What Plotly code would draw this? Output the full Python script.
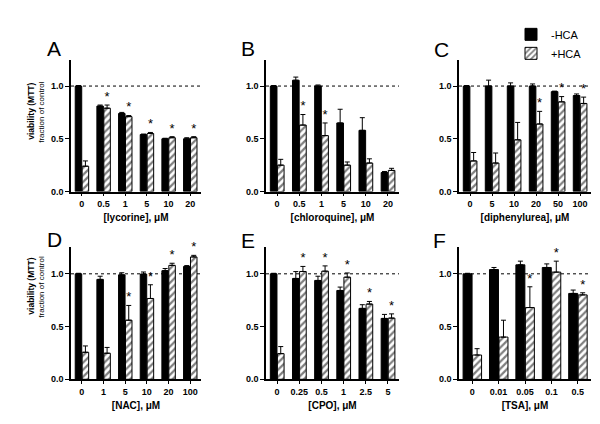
import plotly.graph_objects as go

# ---------------- data ----------------
A_conc = ["0", "0.5", "1", "5", "10", "20"]
A_minus = [1.00, 0.81, 0.74, 0.54, 0.50, 0.50]
A_minus_err = [0.005, 0.01, 0.01, 0.005, 0.005, 0.01]
A_plus = [0.24, 0.79, 0.71, 0.55, 0.51, 0.51]
A_plus_err = [0.05, 0.03, 0.01, 0.01, 0.01, 0.01]
A_star = [0, 1, 1, 1, 1, 1]

B_conc = ["0", "0.5", "1", "5", "10", "20"]
B_minus = [1.00, 1.055, 1.00, 0.65, 0.58, 0.18]
B_minus_err = [0.005, 0.03, 0.01, 0.13, 0.12, 0.01]
B_plus = [0.25, 0.63, 0.53, 0.25, 0.27, 0.20]
B_plus_err = [0.055, 0.10, 0.12, 0.03, 0.04, 0.02]
B_star = [0, 1, 1, 0, 0, 0]

C_conc = ["0", "5", "10", "20", "50", "100"]
C_minus = [1.00, 1.00, 1.00, 1.00, 0.947, 0.91]
C_minus_err = [0.005, 0.056, 0.03, 0.02, 0.005, 0.015]
C_plus = [0.29, 0.27, 0.49, 0.64, 0.85, 0.835]
C_plus_err = [0.08, 0.095, 0.165, 0.12, 0.05, 0.06]
C_star = [0, 0, 0, 1, 1, 1]

D_conc = ["0", "1", "5", "10", "20", "100"]
D_minus = [1.00, 0.947, 0.99, 0.997, 1.03, 1.07]
D_minus_err = [0.005, 0.03, 0.02, 0.02, 0.02, 0.008]
D_plus = [0.256, 0.247, 0.56, 0.766, 1.08, 1.16]
D_plus_err = [0.06, 0.055, 0.14, 0.13, 0.02, 0.015]
D_star = [0, 0, 1, 1, 1, 1]

E_conc = ["0", "0.25", "0.5", "1", "2.5", "5"]
E_minus = [1.00, 0.956, 0.937, 0.842, 0.672, 0.577]
E_minus_err = [0.005, 0.065, 0.04, 0.032, 0.035, 0.038]
E_plus = [0.243, 1.022, 1.025, 0.968, 0.713, 0.58]
E_plus_err = [0.067, 0.048, 0.05, 0.04, 0.025, 0.04]
E_star = [0, 1, 1, 1, 1, 1]

F_conc = ["0", "0.01", "0.05", "0.1", "0.5"]
F_minus = [1.00, 1.04, 1.085, 1.06, 0.814]
F_minus_err = [0.005, 0.02, 0.035, 0.034, 0.032]
F_plus = [0.23, 0.40, 0.68, 1.016, 0.80]
F_plus_err = [0.06, 0.16, 0.197, 0.104, 0.02]
F_star = [0, 0, 1, 1, 1]

panels = [
    ("A", "[lycorine], μM", A_conc, A_minus, A_minus_err, A_plus, A_plus_err, A_star),
    ("B", "[chloroquine], μM", B_conc, B_minus, B_minus_err, B_plus, B_plus_err, B_star),
    ("C", "[diphenylurea], μM", C_conc, C_minus, C_minus_err, C_plus, C_plus_err, C_star),
    ("D", "[NAC], μM", D_conc, D_minus, D_minus_err, D_plus, D_plus_err, D_star),
    ("E", "[CPO], μM", E_conc, E_minus, E_minus_err, E_plus, E_plus_err, E_star),
    ("F", "[TSA], μM", F_conc, F_minus, F_minus_err, F_plus, F_plus_err, F_star),
]

# ---------------- layout geometry ----------------
W, H = 600, 424
xdoms = [(63, 193), (258, 391), (451, 583)]
ydoms = [(52.3, 185.7), (242.3, 375.7)]
letter_pos = [(46, 41), (240, 41), (433, 42), (46, 234), (240, 235), (431, 235)]
ylabel_cy = [105, 282]

FONT = "Liberation Sans, Arial, sans-serif"

fig = go.Figure()
layout = dict(
    width=W, height=H, margin=dict(l=0, r=0, t=0, b=0),
    paper_bgcolor="white", plot_bgcolor="white",
    font=dict(family=FONT, color="black"),
    barmode="overlay", showlegend=True,
    legend=dict(x=503 / W, y=1 - 12 / H, xanchor="left", yanchor="top",
                font=dict(size=11, family=FONT), bgcolor="rgba(0,0,0,0)",
                itemwidth=30, tracegroupgap=0),
)
shapes = []
annotations = []

for k, (letter, xtitle, conc, mn, mn_e, pl, pl_e, star) in enumerate(panels):
    row, col = divmod(k, 3)
    n = len(conc)
    idx = list(range(n))
    bw = 0.30 if n == 6 else 0.34
    xa = "x" if k == 0 else f"x{k+1}"
    ya = "y" if k == 0 else f"y{k+1}"
    xkey = "xaxis" if k == 0 else f"xaxis{k+1}"
    ykey = "yaxis" if k == 0 else f"yaxis{k+1}"

    fig.add_trace(go.Bar(
        x=idx, y=mn, width=bw, offset=-bw - 0.005, xaxis=xa, yaxis=ya,
        name="-HCA", legendgroup="m", showlegend=(k == 0),
        marker=dict(color="black", line=dict(color="black", width=1)),
        error_y=dict(type="data", array=mn_e, arrayminus=[0] * n, symmetric=False,
                     color="black", thickness=1, width=2.5),
    ))
    fig.add_trace(go.Bar(
        x=idx, y=pl, width=bw, offset=0.015, xaxis=xa, yaxis=ya,
        name="+HCA", legendgroup="p", showlegend=(k == 0),
        marker=dict(color="white", line=dict(color="black", width=1),
                    pattern=dict(shape="/", fgcolor="black", bgcolor="white",
                                 size=5, solidity=0.45)),
        error_y=dict(type="data", array=pl_e, arrayminus=[0] * n, symmetric=False,
                     color="black", thickness=1, width=2.5),
    ))
    sx = [i + 0.015 + bw / 2 for i, s in zip(idx, star) if s]
    sy = [p + e + 0.07 for p, e, s in zip(pl, pl_e, star) if s]
    fig.add_trace(go.Scatter(
        x=sx, y=sy, mode="text", text=["*"] * len(sx), textposition="middle center",
        textfont=dict(size=13, family=FONT, color="#000000"), cliponaxis=False,
        xaxis=xa, yaxis=ya, showlegend=False, hoverinfo="skip",
    ))

    x0, x1 = xdoms[col]
    y0, y1 = ydoms[row]
    layout[xkey] = dict(
        domain=[x0 / W, x1 / W], anchor=ya, range=[-0.5, n - 0.5],
        tickvals=idx, ticktext=conc, ticks="outside", ticklen=3, tickwidth=1.2,
        tickcolor="black", showline=True, linecolor="black", linewidth=1.5,
        showgrid=False, zeroline=False, fixedrange=True,
        tickfont=dict(size=9, family=FONT, weight="bold"),
        title=dict(text=xtitle, font=dict(size=10, family=FONT, weight="bold"),
                   standoff=6),
    )
    layout[ykey] = dict(
        domain=[1 - y1 / H, 1 - y0 / H], anchor=xa, range=[0, 1.25],
        tickvals=[0, 0.5, 1.0], ticktext=["0.0", "0.5", "1.0"],
        ticks="outside", ticklen=4, tickwidth=1.2, tickcolor="black",
        showline=True, linecolor="black", linewidth=1.5,
        showgrid=False, zeroline=False, fixedrange=True,
        tickfont=dict(size=9, family=FONT, weight="bold"),
    )
    shapes.append(dict(type="line", xref=f"{xa} domain", yref=ya, x0=0, x1=1,
                       y0=1.0, y1=1.0, line=dict(color="black", width=1, dash="dot"),
                       layer="below"))
    lx, ly = letter_pos[k]
    annotations.append(dict(text=letter, x=lx / W, y=1 - ly / H, xref="paper",
                            yref="paper", showarrow=False, xanchor="center",
                            yanchor="middle", font=dict(size=21, family=FONT)))
    if col == 0:
        cy = ylabel_cy[row]
        annotations.append(dict(text="<b>viability (MTT)</b>", x=23 / W, y=1 - cy / H,
                                xref="paper", yref="paper", showarrow=False,
                                textangle=-90, xanchor="center", yanchor="middle",
                                font=dict(size=8.5, family=FONT)))
        annotations.append(dict(text="fraction of control", x=34 / W, y=1 - cy / H,
                                xref="paper", yref="paper", showarrow=False,
                                textangle=-90, xanchor="center", yanchor="middle",
                                font=dict(size=8, family=FONT)))

layout["shapes"] = shapes
layout["annotations"] = annotations
fig.update_layout(**layout)
fig.write_html("out.html")
